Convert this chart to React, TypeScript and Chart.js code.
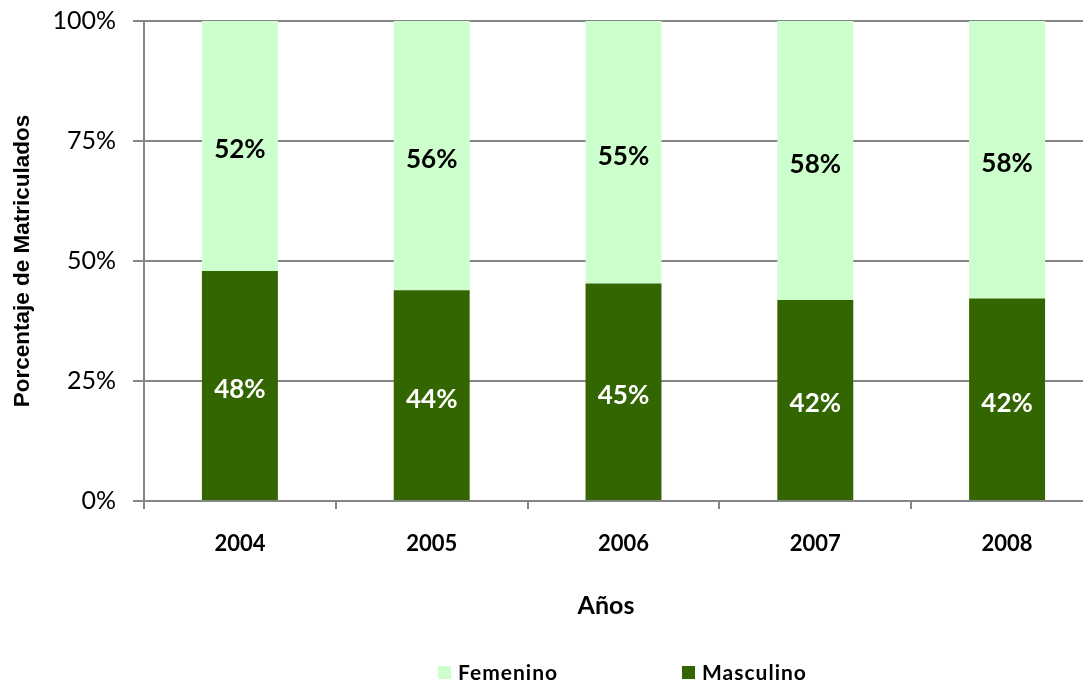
import React, { useEffect, useRef } from "react";
import { Chart, registerables } from "chart.js";

Chart.register(...registerables);

const years = ["2004", "2005", "2006", "2007", "2008"];
const masculino = [47.9, 43.9, 45.3, 41.9, 42.2];
const femenino = [52.1, 56.1, 54.7, 58.1, 57.8];
const yTickValues = [0, 25, 50, 75, 100];

const GRID = "#868686";
const FEM_COLOR = "#CCFFCC";
const MASC_COLOR = "#336600";

const labelPlugin = {
  id: "customLabels",
  afterDatasetsDraw(chart: any) {
    const ctx = chart.ctx;
    ctx.save();
    ctx.font = "bold 26px Lato";
    ctx.textAlign = "center";
    ctx.textBaseline = "middle";
    chart.data.datasets.forEach((ds: any, i: number) => {
      const meta = chart.getDatasetMeta(i);
      meta.data.forEach((el: any, j: number) => {
        const v = ds.data[j];
        const cy = (el.y + el.base) / 2;
        ctx.fillStyle = ds.labelColor;
        ctx.fillText(Math.round(v) + "%", el.x, cy + 4);
      });
    });
    ctx.restore();
  },
  afterDraw(chart: any) {
    const ctx = chart.ctx;
    const area = chart.chartArea;
    ctx.save();
    // x axis title
    ctx.font = "bold 25px Lato";
    ctx.fillStyle = "#000";
    ctx.textAlign = "center";
    ctx.textBaseline = "middle";
    ctx.fillText("Años", area.left + 462, area.bottom + 105);
    // legend (Femenino first, then Masculino)
    const legendY = area.bottom + 172;
    const items = [
      { text: "Femenino", color: FEM_COLOR, x: area.left + 294 },
      { text: "Masculino", color: MASC_COLOR, x: area.left + 538 },
    ];
    ctx.font = "bold 21px Lato";
    ctx.textAlign = "left";
    (ctx as any).letterSpacing = "1px";
    items.forEach((it) => {
      ctx.fillStyle = it.color;
      ctx.fillRect(it.x, legendY - 7, 13, 13);
      ctx.fillStyle = "#000";
      ctx.fillText(it.text, it.x + 20, legendY);
    });
    ctx.restore();
  },
};

export default function App() {
  const ref = useRef<HTMLCanvasElement | null>(null);

  useEffect(() => {
    if (!ref.current) return;
    const chart = new Chart(ref.current, {
      type: "bar",
      data: {
        labels: years,
        datasets: [
          {
            label: "Masculino",
            data: masculino,
            backgroundColor: MASC_COLOR,
            borderWidth: 0,
            categoryPercentage: 0.4,
            barPercentage: 0.99,
            labelColor: "#ffffff",
          } as any,
          {
            label: "Femenino",
            data: femenino,
            backgroundColor: FEM_COLOR,
            borderWidth: 0,
            categoryPercentage: 0.4,
            barPercentage: 0.99,
            labelColor: "#000000",
          } as any,
        ],
      },
      options: {
        responsive: false,
        maintainAspectRatio: false,
        animation: false,
        layout: { padding: { top: 13, left: 0, right: 0, bottom: 0 } },
        plugins: {
          legend: { display: false },
          tooltip: { enabled: false },
          title: { display: false },
        },
        scales: {
          x: {
            stacked: true,
            offset: true,
            grid: {
              offset: true,
              drawOnChartArea: false,
              drawTicks: true,
              tickLength: 8,
              color: GRID,
              lineWidth: 2,
            },
            border: { display: true, color: GRID, width: 2 },
            ticks: {
              font: { family: "Lato", size: 22, weight: "bold" },
              color: "#000",
              padding: 22,
            },
            afterFit: (scale: any) => {
              scale.height = 182;
              scale.paddingLeft = 0;
              scale.paddingRight = 0;
            },
          },
          y: {
            stacked: true,
            min: 0,
            max: 100,
            afterBuildTicks: (scale: any) => {
              scale.ticks = yTickValues.map((v) => ({ value: v }));
            },
            ticks: {
              callback: (v: any) => v + "%",
              font: { family: "Lato", size: 25 },
              color: "#000",
              padding: 17,
            },
            grid: {
              color: GRID,
              lineWidth: 2,
              tickLength: 11,
              drawTicks: true,
            },
            border: { display: true, color: GRID, width: 2 },
            title: {
              display: true,
              text: "Porcentaje de Matriculados",
              font: { family: "Liberation Sans", size: 22.5, weight: "bold" },
              color: "#000",
              padding: { top: 1, bottom: 0 },
            },
            afterFit: (scale: any) => {
              scale.width = 136;
              scale.paddingTop = 0;
              scale.paddingBottom = 0;
            },
          },
        },
      },
      plugins: [labelPlugin],
    });
    return () => chart.destroy();
  }, []);

  return (
    <div style={{ width: 1083, height: 675, overflow: "hidden" }}>
      <canvas ref={ref} width={1095} height={675} style={{ display: "block" }} />
    </div>
  );
}
